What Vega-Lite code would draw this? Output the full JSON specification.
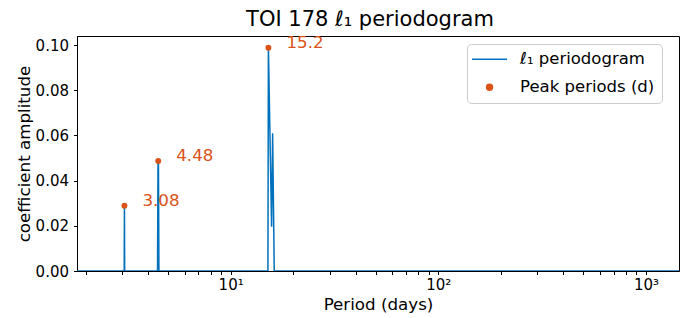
{
  "$schema": "https://vega.github.io/schema/vega-lite/v6.json",
  "width": 602,
  "height": 235,
  "autosize": {"type": "none"},
  "padding": {"left": 77, "top": 36, "right": 13, "bottom": 47},
  "config": {
    "font": "DejaVu Sans",
    "view": {"stroke": "black", "strokeWidth": 1},
    "axis": {
      "grid": false,
      "domainColor": "black",
      "tickColor": "black",
      "labelColor": "black",
      "titleColor": "black",
      "labelFontSize": 15,
      "titleFontSize": 16.7,
      "titleFontWeight": "normal",
      "tickSize": 3.5,
      "zindex": 1
    },
    "legend": {
      "orient": "none",
      "legendX": 390,
      "legendY": 8,
      "fillColor": "white",
      "strokeColor": "#cccccc",
      "cornerRadius": 4,
      "padding": 7,
      "labelFontSize": 16.5,
      "labelColor": "black",
      "labelOffset": 22.3,
      "symbolOffset": 7.3,
      "symbolSize": 35,
      "symbolStrokeWidth": 1.5,
      "rowPadding": 11,
      "symbolOpacity": 1
    }
  },
  "title": {"text": "TOI 178 ℓ₁ periodogram", "fontSize": 21, "fontWeight": "normal", "color": "black", "offset": 5, "dx": -8},
  "datasets": {
    "pgram": [
      {"period": 1.82, "amp": 0},
      {"period": 3.072, "amp": 0},
      {"period": 3.08, "amp": 0.0289},
      {"period": 3.088, "amp": 0},
      {"period": 4.445, "amp": 0},
      {"period": 4.47, "amp": 0.0487},
      {"period": 4.49, "amp": 0.0487},
      {"period": 4.515, "amp": 0},
      {"period": 15.12, "amp": 0},
      {"period": 15.2, "amp": 0.0988},
      {"period": 15.75, "amp": 0.0196},
      {"period": 15.93, "amp": 0.061},
      {"period": 16.22, "amp": 0},
      {"period": 1443, "amp": 0}
    ],
    "peaks": [
      {"period": 3.08, "amp": 0.0289, "label": "3.08"},
      {"period": 4.48, "amp": 0.0487, "label": "4.48"},
      {"period": 15.2, "amp": 0.0988, "label": "15.2"}
    ]
  },
  "encoding": {
    "x": {
      "field": "period",
      "type": "quantitative",
      "scale": {"type": "log", "domain": [1.82, 1443], "nice": false},
      "axis": {
        "title": "Period (days)",
        "values": [2, 3, 4, 5, 6, 7, 8, 9, 10, 20, 30, 40, 50, 60, 70, 80, 90, 100, 200, 300, 400, 500, 600, 700, 800, 900, 1000],
        "labelExpr": "datum.value == 10 ? '10¹' : datum.value == 100 ? '10²' : datum.value == 1000 ? '10³' : ''",
        "labelPadding": 3,
        "labelFlush": false,
        "labelOverlap": false,
        "titlePadding": 4,
        "encode": {
          "ticks": {"y2": {"condition": {"test": "datum.value == 10 || datum.value == 100 || datum.value == 1000", "value": 3.5}, "value": 2}}
        }
      }
    },
    "y": {
      "field": "amp",
      "type": "quantitative",
      "scale": {"domain": [0, 0.104], "nice": false},
      "axis": {
        "title": "coefficient amplitude",
        "values": [0, 0.02, 0.04, 0.06, 0.08, 0.1],
        "format": ".2f",
        "labelPadding": 5,
        "titlePadding": 2
      }
    }
  },
  "layer": [
    {
      "data": {"name": "pgram"},
      "mark": {"type": "line", "strokeWidth": 1.5, "clip": true},
      "encoding": {
        "color": {
          "datum": "ℓ₁ periodogram",
          "type": "nominal",
          "title": null,
          "scale": {"domain": ["ℓ₁ periodogram", "Peak periods (d)"], "range": ["#0072bd", "#d95319"]}
        }
      }
    },
    {
      "data": {"name": "peaks"},
      "mark": {"type": "point", "filled": true, "opacity": 1, "size": 35},
      "encoding": {
        "color": {"datum": "Peak periods (d)", "type": "nominal", "title": null},
        "shape": {"datum": "Peak periods (d)", "type": "nominal", "title": null, "scale": {"domain": ["ℓ₁ periodogram", "Peak periods (d)"], "range": ["M-5.92,0H5.92", "circle"]}}
      }
    },
    {
      "data": {"name": "peaks"},
      "mark": {"type": "text", "align": "left", "baseline": "middle", "dx": 18, "dy": -5, "fontSize": 16.7, "color": "#d95319"},
      "encoding": {"text": {"field": "label"}}
    }
  ]
}
